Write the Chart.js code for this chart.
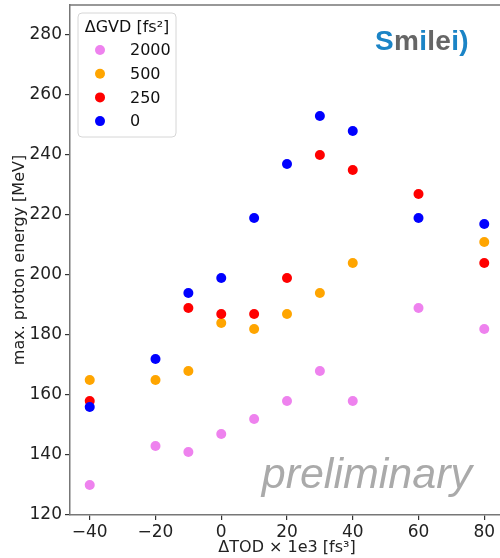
<!DOCTYPE html>
<html>
<head>
<meta charset="utf-8">
<script src="https://cdn.jsdelivr.net/npm/chart.js"></script>
<style>
  html, body { margin: 0; padding: 0; background: #fff; overflow: hidden; }
  #plot { display: block; }
</style>
</head>
<body>
<canvas id="plot" width="510" height="558"></canvas>
<script>
// third-order dispersion offsets (x 1e3 fs^3)
const tod = [-40, -20, -10, 0, 10, 20, 30, 40, 60, 80];
// max. proton energy [MeV] per GVD offset, null where no run exists
const gvd2000 = [130, 143, 141, 147, 152, 158, 168, 158, 189, 182];
const gvd500  = [165, 165, 168, 184, 182, 187, 194, 204, null, 211];
const gvd250  = [158, null, 189, 187, 187, 199, 240, 235, 227, 204];
const gvd0    = [156, 172, 194, 199, 219, 237, 253, 248, 219, 217];

const gvdLabels = ['2000', '500', '250', '0'];
const gvdColors = ['#ee82ee', '#ffa500', '#ff0000', '#0000ff'];
const xTicks = [-40, -20, 0, 20, 40, 60, 80];
const yTicks = [120, 140, 160, 180, 200, 220, 240, 260, 280];

const FONT = "'DejaVu Sans', sans-serif";

function pts(ys) {
  const out = [];
  ys.forEach((y, i) => { if (y !== null) out.push({ x: tod[i], y: y }); });
  return out;
}

const series = [gvd2000, gvd500, gvd250, gvd0];
const datasets = series.map((ys, i) => ({
  label: gvdLabels[i],
  data: pts(ys),
  backgroundColor: gvdColors[i],
  borderColor: gvdColors[i],
  pointRadius: 5,
  pointHoverRadius: 5,
  borderWidth: 0,
  order: series.length - i   // later series on top
}));

// top/right spines, matplotlib-style legend, logo and watermark
const decor = {
  id: 'decor',
  afterDraw(chart) {
    const c = chart.ctx, a = chart.chartArea;
    c.save();
    c.strokeStyle = '#777';
    c.lineWidth = 1.5;
    c.beginPath();
    c.moveTo(a.left, a.top); c.lineTo(a.right, a.top); c.lineTo(a.right, a.bottom);
    c.stroke();

    // legend box
    const lx = a.left + 8, ly = a.top + 8, lw = 98, lh = 124;
    c.fillStyle = 'rgba(255,255,255,0.8)';
    c.strokeStyle = '#d6d6d6';
    c.lineWidth = 1;
    c.beginPath();
    c.roundRect(lx, ly, lw, lh, 4);
    c.fill(); c.stroke();

    c.fillStyle = '#111';
    c.font = '16px ' + FONT;
    c.textBaseline = 'middle';
    c.textAlign = 'center';
    c.fillText('ΔGVD [fs²]', lx + lw / 2, ly + 15);
    c.textAlign = 'left';
    chart.data.datasets.forEach((ds, i) => {
      const ry = ly + 37 + i * 23.7;
      c.fillStyle = ds.backgroundColor;
      c.beginPath();
      c.arc(lx + 22, ry, 5, 0, Math.PI * 2);
      c.fill();
      c.fillStyle = '#111';
      c.fillText(ds.label, lx + 52, ry + 1);
    });

    // watermark
    c.fillStyle = '#aaaaaa';
    c.font = "italic 43px 'Liberation Sans', Arial, sans-serif";
    c.textAlign = 'right';
    c.textBaseline = 'alphabetic';
    c.fillText('preliminary', 472, 488);

    // logo
    const parts = [['S', '#1b84c6'], ['m', '#666'], ['i', '#1b84c6'], ['l', '#666'],
                   ['e', '#666'], ['i', '#1b84c6'], [')', '#1b84c6']];
    c.font = "bold 28px 'Liberation Sans', Arial, sans-serif";
    c.textAlign = 'left';
    let x = 375;
    parts.forEach(([ch, col]) => {
      c.fillStyle = col;
      c.fillText(ch, x, 50);
      x += c.measureText(ch).width + 0.3;
    });
    c.restore();
  }
};

new Chart(document.getElementById('plot'), {
  type: 'scatter',
  data: { datasets },
  options: {
    responsive: false,
    animation: false,
    devicePixelRatio: 1,
    layout: { padding: { top: 5, right: 6, left: 0, bottom: 0 } },
    plugins: { legend: { display: false }, tooltip: { enabled: false } },
    scales: {
      x: {
        type: 'linear',
        min: -46, max: 86,
        afterBuildTicks: s => { s.ticks = xTicks.map(v => ({ value: v })); },
        afterFit: s => { s.height = 43; s.paddingLeft = 0; s.paddingRight = 0; },
        grid: { drawOnChartArea: false, drawTicks: true, tickLength: 5, color: '#333', lineWidth: 1.2 },
        border: { display: true, color: '#777', width: 1.5 },
        ticks: {
          color: '#222', padding: 2, maxRotation: 0, autoSkip: false,
          font: { family: FONT, size: 17 },
          callback: v => String(v).replace('-', '\u2212')
        },
        title: {
          display: true, text: 'ΔTOD × 1e3 [fs³]', color: '#222',
          font: { family: FONT, size: 16 }, padding: { top: 0, bottom: 1 }
        }
      },
      y: {
        min: 120, max: 290,
        afterBuildTicks: s => { s.ticks = yTicks.map(v => ({ value: v })); },
        afterFit: s => { s.width = 70; s.paddingTop = 0; s.paddingBottom = 0; },
        grid: { drawOnChartArea: false, drawTicks: true, tickLength: 5, color: '#333', lineWidth: 1.2 },
        border: { display: true, color: '#777', width: 1.5 },
        ticks: { color: '#222', padding: 3, font: { family: FONT, size: 17 } },
        title: {
          display: true, text: 'max. proton energy [MeV]', color: '#222',
          font: { family: FONT, size: 16 }, padding: { top: 10, bottom: 0 }
        }
      }
    }
  },
  plugins: [decor]
});
</script>
</body>
</html>
